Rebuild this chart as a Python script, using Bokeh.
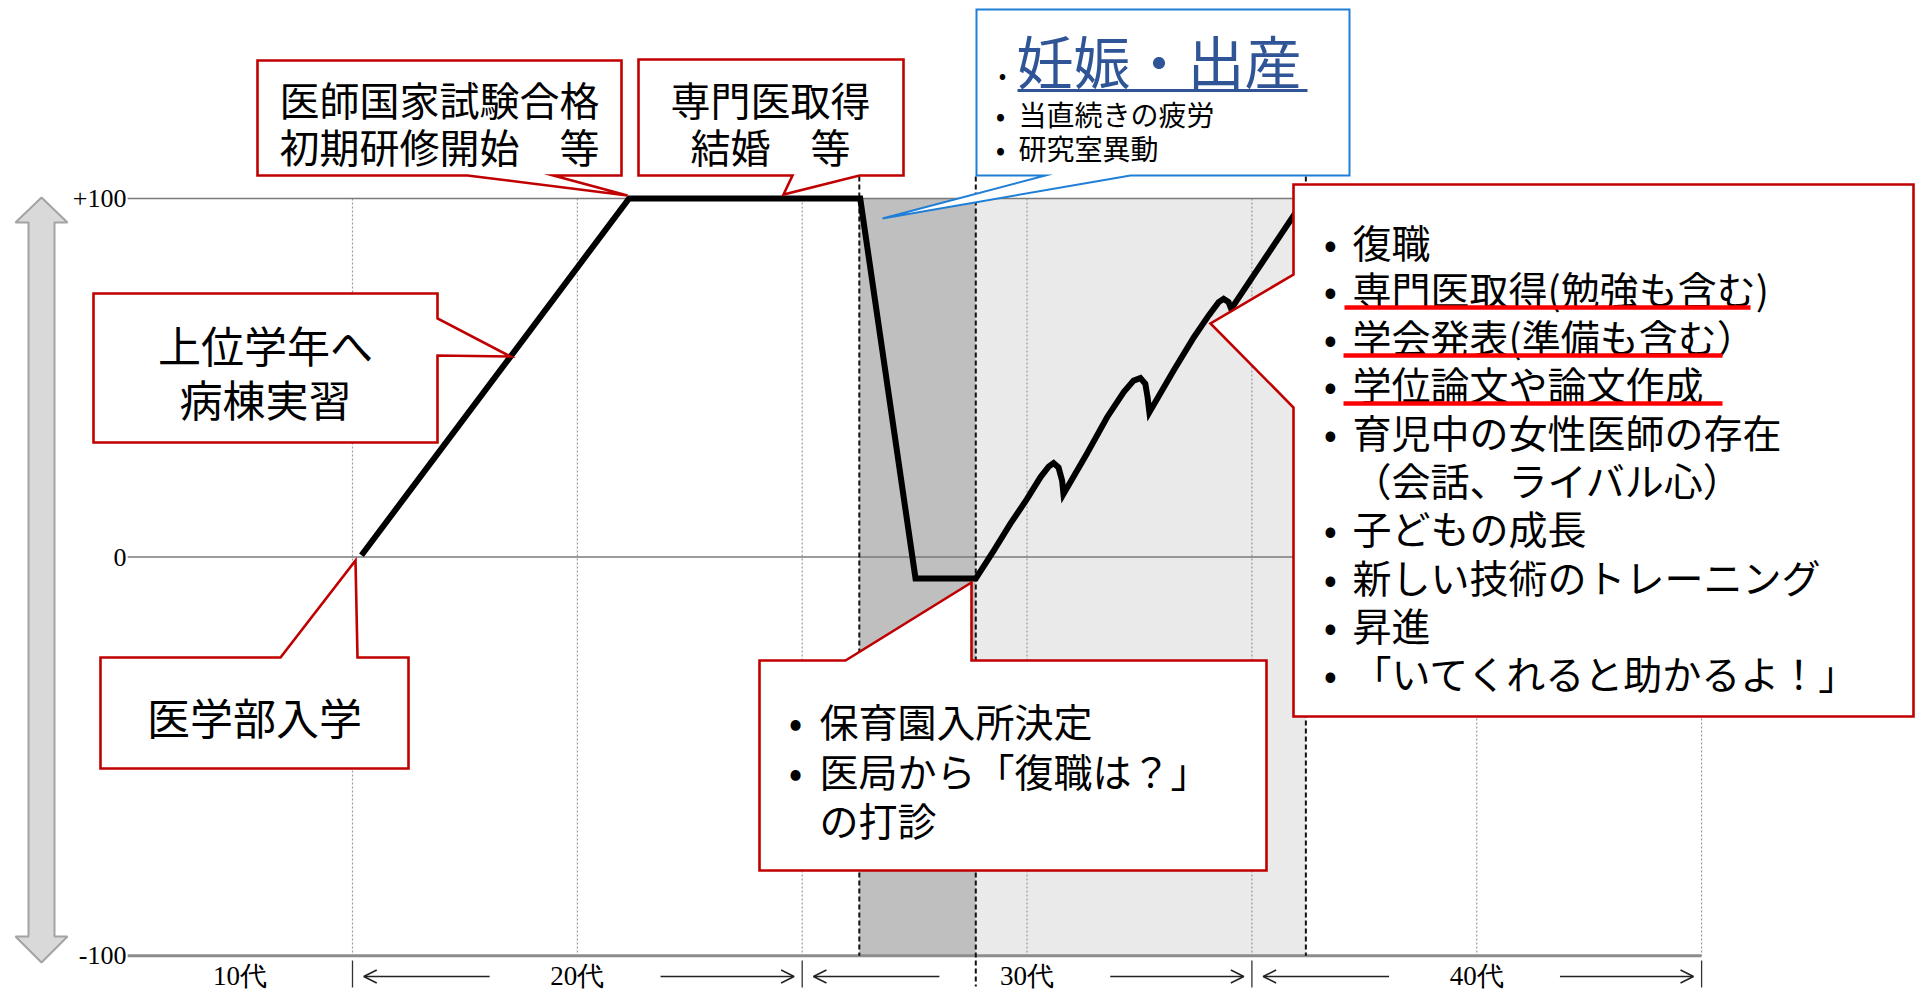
from bokeh.plotting import figure
from bokeh.models import Range1d, Arrow, OpenHead
from bokeh.core.properties import value
from bokeh.embed import file_html
from bokeh.resources import INLINE

# ---------------- data ----------------
# motivation curve: age (years) vs. level
line_age = [20.2, 26.15, 31.29, 32.52, 33.86, 34.26, 34.63, 35.00, 35.30, 35.48,
            35.59, 35.70, 35.78, 35.81, 36.33, 36.78, 37.15, 37.37, 37.52, 37.63,
            37.68, 37.72, 38.26, 38.71, 39.04, 39.26, 39.37, 39.48, 39.54, 40.93, 41.15]
line_value = [0.5, 100, 100, -6, -6, 1.8, 9.3, 16.2, 22.3, 25.2,
              26.2, 25.0, 21.3, 17.6, 28.8, 39.0, 46.0, 49.2, 49.9, 48.3,
              44.6, 40.4, 52.0, 61.3, 67.4, 71.1, 72.0, 71.1, 69.2, 95.3, 99.5]

y_tick_values = [100, 0, -111.2]
y_tick_labels = ["+100", "0", "-100"]
axis_start_age = 15
axis_end_age = 50
grid_ages = [20, 25, 30, 35, 40, 45, 50]
decade_bounds = [15, 20, 30, 40, 50]
decade_labels = ["10代", "20代", "30代", "40代"]

period_start = [31.27, 33.86]   # pregnancy / return-to-work periods
period_end = [33.86, 41.2]

text_med_entry = ["医学部入学"]
text_upper = ["上位学年へ", "病棟実習"]
text_exam = ["医師国家試験合格", "初期研修開始　等"]
text_spec = ["専門医取得", "結婚　等"]
text_preg_title = "妊娠・出産"
text_preg_items = ["当直続きの疲労", "研究室異動"]
text_nursery = ["保育園入所決定", "医局から「復職は？」", "の打診"]
text_nursery_bullet = [True, True, False]
text_return = ["復職", "専門医取得(勉強も含む)", "学会発表(準備も含む）", "学位論文や論文作成",
               "育児中の女性医師の存在", "（会話、ライバル心）", "子どもの成長",
               "新しい技術のトレーニング", "昇進", "「いてくれると助かるよ！」"]
text_return_bullet = [True, True, True, True, True, False, True, True, True, True]
text_return_underlined = [1, 2, 3]

# ---------------- layout (reference pixel frame) ----------------
W, H = 1916, 990
OFF = 0
AGE20_PX = 352.0      # px of age 20
PX_PER_YEAR = 44.97
ZERO_PX = 556.5       # px (from top) of level 0
PX_PER_UNIT = 3.585

def X(ox):
    return 20 + (ox - OFF - AGE20_PX) / PX_PER_YEAR

def Y(oy):
    return (ZERO_PX - (oy - OFF)) / PX_PER_UNIT

p = figure(width=W, height=H, output_backend="svg", toolbar_location=None,
           x_range=Range1d(X(OFF), X(OFF + W)), y_range=Range1d(Y(OFF + H), Y(OFF)),
           min_border=0, x_axis_type=None, y_axis_type=None)
p.grid.visible = False
p.outline_line_color = None
p.background_fill_color = "white"
p.border_fill_color = "white"

JP = value("Noto Sans CJK JP")
SERIF = value("Liberation Serif")
RED = "#c00000"

top, bottom = y_tick_values[0], y_tick_values[2]

# shaded periods
p.quad(left=[period_start[0]], right=[period_end[0]], top=[top], bottom=[bottom],
       fill_color="#bfbfbf", line_color=None)
p.quad(left=[period_start[1]], right=[period_end[1]], top=[top], bottom=[bottom],
       fill_color="#eaeaea", line_color=None)

# dotted vertical grid
p.segment(x0=grid_ages, x1=grid_ages, y0=[top] * len(grid_ages), y1=[bottom] * len(grid_ages),
          line_color="#9a9a9a", line_width=1.2, line_dash="2 2")

# horizontal reference lines
p.segment(x0=[axis_start_age] * 2, x1=[axis_end_age] * 2, y0=y_tick_values[:2], y1=y_tick_values[:2],
          line_color="#7a7a7a", line_width=1.6)
p.segment(x0=[axis_start_age], x1=[axis_end_age], y0=[bottom], y1=[bottom],
          line_color="#8c8c8c", line_width=3)

# y tick labels
p.text(x=[X(126)] * 3, y=y_tick_values, text=y_tick_labels, text_font=SERIF,
       text_font_size="26px", text_align="right", text_baseline="middle", text_color="black")

# black dashed period boundaries
dash_top = Y(176)
p.segment(x0=[period_start[0], period_end[1]], x1=[period_start[0], period_end[1]],
          y0=[dash_top] * 2, y1=[bottom] * 2, line_color="#111111", line_width=2, line_dash="5 3")
p.segment(x0=[period_start[1]], x1=[period_start[1]], y0=[dash_top], y1=[Y(986)],
          line_color="#111111", line_width=2, line_dash="5 3")

# decade separators, arrows and labels
sep = decade_bounds[1:]
p.segment(x0=sep, x1=sep, y0=[Y(960)] * len(sep), y1=[Y(987)] * len(sep),
          line_color="#333333", line_width=1.3)
ay = Y(976)
for b0, b1 in zip(decade_bounds[1:-1], decade_bounds[2:]):
    p.add_layout(Arrow(end=OpenHead(size=13, line_width=1.5, line_color="#222222"),
                       x_start=b0 + 3.05, y_start=ay, x_end=b0 + 0.25, y_end=ay,
                       line_width=1.5, line_color="#222222"))
    p.add_layout(Arrow(end=OpenHead(size=13, line_width=1.5, line_color="#222222"),
                       x_start=b1 - 3.15, y_start=ay, x_end=b1 - 0.18, y_end=ay,
                       line_width=1.5, line_color="#222222"))
mid = [(a + b) / 2 for a, b in zip(decade_bounds[:-1], decade_bounds[1:])]
p.text(x=mid, y=[Y(975)] * len(mid), text=decade_labels, text_font=SERIF,
       text_font_size="27px", text_align="center", text_baseline="middle", text_color="black")

# left double arrow
arr_x = [41, 67, 54, 54, 67, 41, 15, 28, 28, 15]
arr_y = [197, 222, 222, 936, 936, 962, 936, 936, 222, 222]
p.patch([X(v) for v in arr_x], [Y(v) for v in arr_y], fill_color="#d9d9d9",
        line_color="#a3a3a3", line_width=2)

# main curve
p.line(line_age, line_value, line_color="black", line_width=6, line_join="miter", line_cap="butt")

# ---------------- callouts ----------------
def callout(pts, color=RED, lw=2.6):
    p.patch([X(a) for a, b in pts], [Y(b) for a, b in pts], fill_color="white",
            line_color=color, line_width=lw, line_join="miter")

def texts(xs, ys, tx, size, align="center", color="black"):
    p.text(x=[X(v) for v in xs], y=[Y(v) for v in ys], text=tx, text_font=JP,
           text_font_size=size, text_align=align, text_baseline="middle", text_color=color)

# 医学部入学
callout([(100, 657), (280, 657), (355, 560), (357, 657), (408, 657), (408, 768), (100, 768)])
texts([254], [715], text_med_entry, "43px")

# 上位学年へ
callout([(93, 293), (437, 293), (437, 318), (510, 356), (437, 355), (437, 442), (93, 442)])
texts([265, 265], [343, 397], text_upper, "43px")

# 医師国家試験合格
callout([(257, 60), (621, 60), (621, 175), (553, 175), (627, 195), (467, 175), (257, 175)])
texts([439, 439], [98, 145], text_exam, "40px")

# 専門医取得
callout([(638, 59), (903, 59), (903, 175), (859, 175), (783, 194), (792, 175), (638, 175)])
texts([770, 770], [98, 145], text_spec, "40px")

# 妊娠・出産 (blue)
callout([(976, 9), (1349, 9), (1349, 175), (1130, 175), (882, 218), (1045, 175), (976, 175)],
        color="#1f7fd6", lw=2)
texts([1002], [72], ["•"], "22px")
texts([1016], [58], [text_preg_title], "57px", align="left", color="#2f5597")
p.segment(x0=[X(1017)], x1=[X(1307)], y0=[Y(90)], y1=[Y(90)], line_color="#2f5597", line_width=3)
texts([1000, 1000], [113, 147], ["•", "•"], "28px")
texts([1018, 1018], [113, 147], text_preg_items, "28px", align="left")

# 保育園入所決定
callout([(759, 660), (845, 660), (971, 582), (971, 660), (1266, 660), (1266, 870), (759, 870)])
ny = [719, 769, 818]
bx = [795 for b in text_nursery_bullet if b]
by = [y for y, b in zip(ny, text_nursery_bullet) if b]
texts(bx, by, ["•"] * len(bx), "40px")
texts([819] * 3, ny, text_nursery, "39px", align="left")

# 復職 (big box)
callout([(1293, 184), (1913, 184), (1913, 716), (1293, 716), (1293, 407), (1210, 323), (1293, 274)])
ry = [240, 287, 335, 382, 430, 478, 526, 575, 623, 671]
rbx = [1330 for b in text_return_bullet if b]
rby = [y for y, b in zip(ry, text_return_bullet) if b]
texts(rbx, rby, ["•"] * len(rbx), "39px")
texts([1352] * len(ry), ry, text_return, "39px", align="left")
ul_x0 = {1: 1344, 2: 1343, 3: 1343}
ul_x1 = {1: 1750, 2: 1722, 3: 1722}
ul_y = {1: 307, 2: 355, 3: 403}
p.segment(x0=[X(ul_x0[i]) for i in text_return_underlined], x1=[X(ul_x1[i]) for i in text_return_underlined],
          y0=[Y(ul_y[i]) for i in text_return_underlined], y1=[Y(ul_y[i]) for i in text_return_underlined],
          line_color="#ff0000", line_width=4.5)

open("out.html", "w").write(file_html(p, INLINE))
